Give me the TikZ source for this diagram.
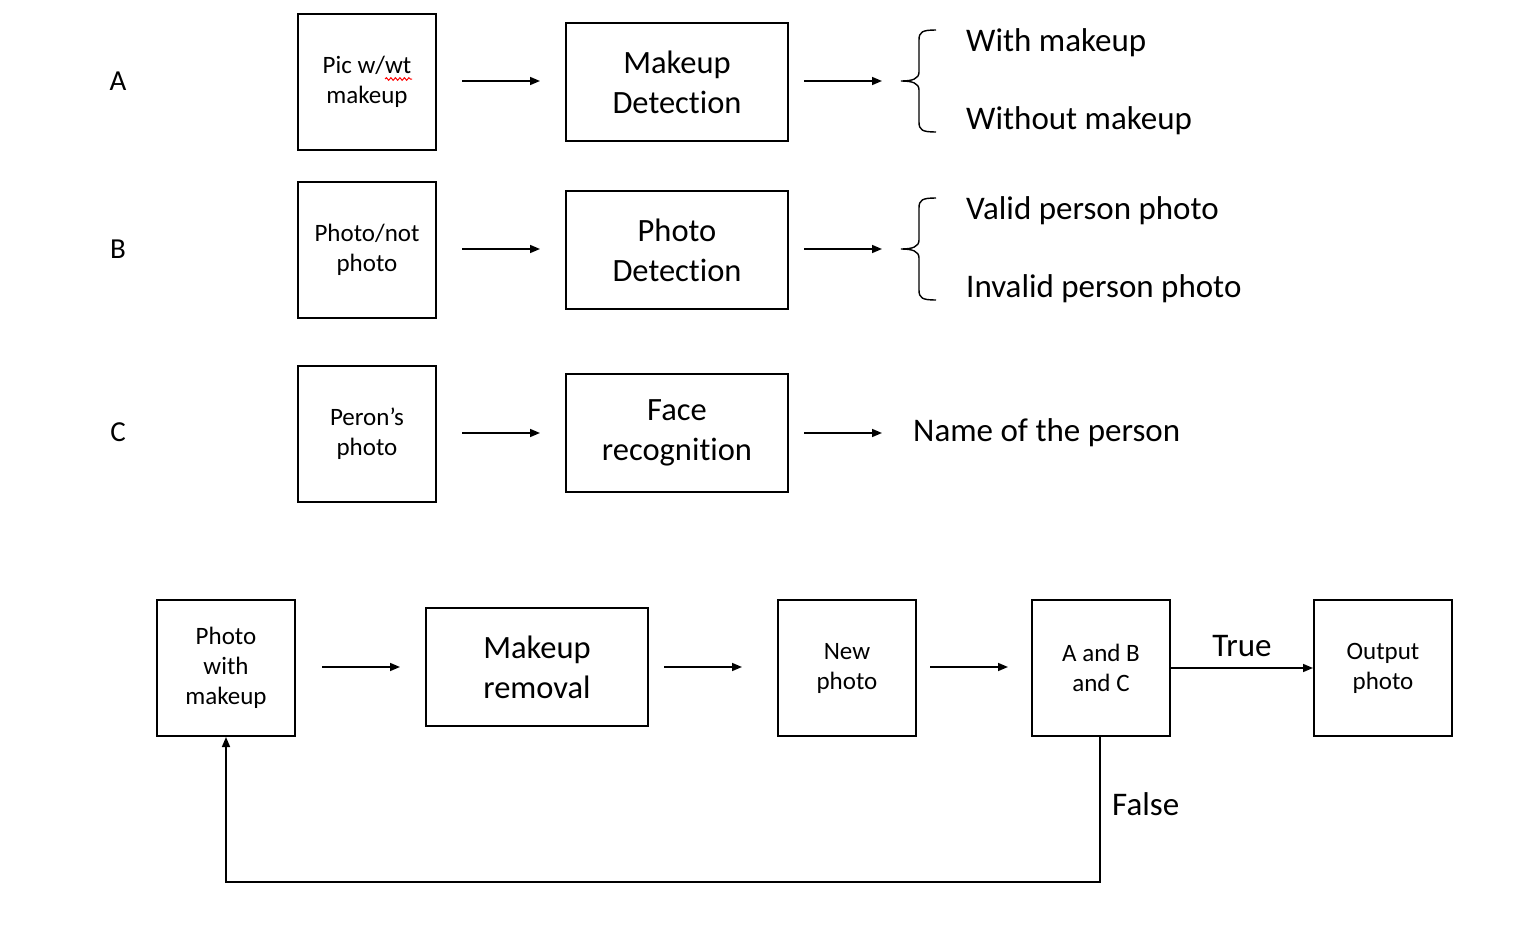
\documentclass[tikz,border=0pt]{standalone}
\usepackage{fontspec}
\setmainfont{Carlito}[Ligatures=CommonOff]
\usetikzlibrary{arrows.meta,decorations.pathmorphing}
\tikzset{
  box/.style={draw, line width=2pt, inner sep=0pt, align=center},
  smallbox/.style={box, minimum width=138pt, minimum height=136pt, font=\fontsize{25}{30}\selectfont},
  bigbox/.style={box, minimum width=222pt, minimum height=118pt, font=\fontsize{32.5}{40}\selectfont},
  conn/.style={line width=1.6pt, -{Triangle[length=10pt,width=8pt]}},
  outtxt/.style={anchor=west, inner sep=0pt, font=\fontsize{33}{38}\selectfont},
  rowlbl/.style={inner sep=0pt, font=\fontsize{29}{32}\selectfont},
  bracestyle/.style={line width=1.4pt},
}
\begin{document}
\begin{tikzpicture}[x=1pt,y=-1pt]
\useasboundingbox (0,0) rectangle (1532,932);
% Row A
\node[rowlbl] (la) at (118,81) {A};
\node[smallbox] (a1) at (367,82) {Pic w/wt\\makeup};
\node[bigbox] (a2) at (677,82) {Makeup\\Detection};
\coordinate (a1e) at (462,81);
\coordinate (a2s) at (540,81);
\coordinate (a3e) at (804,81);
\coordinate (a3s) at (882,81);
\draw[conn] (a1e) -- (a2s);
\draw[conn] (a3e) -- (a3s);
\draw[bracestyle] (936,30) .. controls (922,30) and (919,32) .. (919,40) -- (919,72) .. controls (919,79) and (912,81) .. (901,81) .. controls (912,81) and (919,83) .. (919,90) -- (919,122) .. controls (919,130) and (922,132) .. (936,132);
\node[outtxt] (a4) at (966,43) {With makeup};
\node[outtxt] (a5) at (966,121) {Without makeup};
\draw[red, line width=1pt, decorate, decoration={snake, amplitude=1.3pt, segment length=4.5pt}] (385,79) -- (412,79);
% Row B
\node[rowlbl] (lb) at (118,249) {B};
\node[smallbox] (b1) at (367,250) {Photo/not\\photo};
\node[bigbox] (b2) at (677,250) {Photo\\Detection};
\coordinate (b1e) at (462,249);
\coordinate (b2s) at (540,249);
\coordinate (b3e) at (804,249);
\coordinate (b3s) at (882,249);
\draw[conn] (b1e) -- (b2s);
\draw[conn] (b3e) -- (b3s);
\draw[bracestyle] (936,198) .. controls (922,198) and (919,200) .. (919,208) -- (919,240) .. controls (919,247) and (912,249) .. (901,249) .. controls (912,249) and (919,251) .. (919,258) -- (919,290) .. controls (919,298) and (922,300) .. (936,300);
\node[outtxt] (b4) at (966,211) {Valid person photo};
\node[outtxt] (b5) at (966,289) {Invalid person photo};
% Row C
\node[rowlbl] (lc) at (118,432) {C};
\node[smallbox] (c1) at (367,434) {Peron’s\\photo};
\node[bigbox] (c2) at (677,433) {Face\\recognition};
\coordinate (c1e) at (462,433);
\coordinate (c2s) at (540,433);
\coordinate (c3e) at (804,433);
\coordinate (c3s) at (882,433);
\draw[conn] (c1e) -- (c2s);
\draw[conn] (c3e) -- (c3s);
\node[outtxt] (c4) at (913,433) {Name of the person};
% Bottom pipeline
\node[smallbox] (p1) at (226,668) {Photo\\with\\makeup};
\node[bigbox] (p2) at (537,667) {Makeup\\removal};
\node[smallbox] (p3) at (847,668) {New\\photo};
\node[smallbox] (p4) at (1101,668) {A and B\\and C};
\node[smallbox] (p5) at (1383,668) {Output\\photo};
\coordinate (q1) at (322,667);
\coordinate (q2) at (400,667);
\coordinate (q3) at (664,667);
\coordinate (q4) at (742,667);
\coordinate (q5) at (930,667);
\coordinate (q6) at (1008,667);
\draw[conn] (q1) -- (q2);
\draw[conn] (q3) -- (q4);
\draw[conn] (q5) -- (q6);
\draw[conn] (p4.east) -- node[above=10pt, font=\fontsize{33}{38}\selectfont, inner sep=0pt] (tl) {True} (p5.west);
\coordinate (fb) at (1100,882);
\coordinate (fa) at (226,882);
\draw[conn] (p4.south -| fb) -- (fb) -- (fa) -- (p1.south -| fa);
\node[outtxt] (fl) at (1112,804) {False};
\end{tikzpicture}
\end{document}
